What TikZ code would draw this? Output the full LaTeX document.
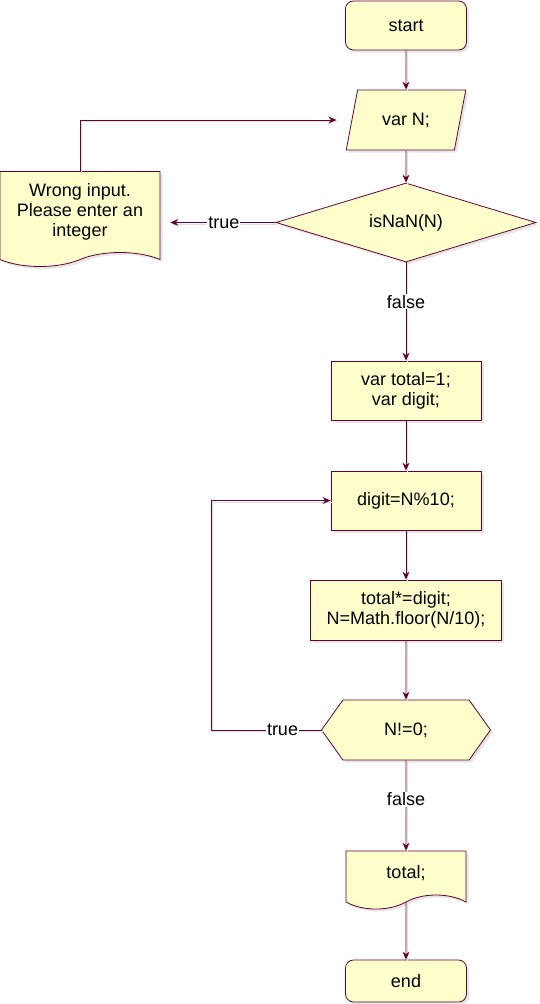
\documentclass[tikz,border=0pt]{standalone}
\usepackage{fontspec}
\setmainfont{Liberation Sans}
\usetikzlibrary{shapes.geometric,shapes.symbols,arrows.meta,shadows}

\definecolor{flowline}{HTML}{660033}
\definecolor{flowfill}{HTML}{FFFFCC}

\tikzset{
  box/.style={draw=flowline, fill=flowfill, line width=0.8pt, align=center,
    inner sep=0pt, drop shadow={shadow xshift=2.5pt, shadow yshift=-2.5pt, opacity=0.2}},
  terminal/.style={box, rounded corners=8pt, minimum width=121pt, minimum height=49pt},
  process/.style={box, rectangle, minimum width=150pt, minimum height=59pt},
  inout/.style={box, trapezium, trapezium left angle=69, trapezium right angle=111,
    trapezium stretches=true, minimum width=120pt, minimum height=60pt},
  decision/.style={box, diamond, aspect=3.3, minimum width=260pt, minimum height=79pt},
  loopcheck/.style={box, signal, signal to=east and west, signal pointer angle=109,
    minimum width=169pt, minimum height=60pt},
  document/.style={box, tape, tape bend top=none, tape bend bottom=in and out,
    tape bend height=14pt},
  flow/.style={draw=flowline, line width=0.9pt, -{Stealth[length=8pt, width=7pt]},
    preaction={draw=black!12, line width=0.9pt, -, transform canvas={shift={(1.5pt,-1.5pt)}}}},
  lbl/.style={fill=white, inner sep=1pt},
}

\begin{document}
\begin{tikzpicture}[x=1pt, y=-1pt, font=\fontsize{18}{20}\selectfont]
  \useasboundingbox (0,0) rectangle (539,1004);

  \node[terminal] (start) at (406, 25.5) {start};
  \node[inout] (varN) at (406, 120) {var N;};
  \node[decision] (isnan) at (406, 222.5) {isNaN(N)};
  \node[document, minimum width=160pt, minimum height=95pt] (wrong) at (80, 212)
    {Wrong input.\\Please enter an\\integer};
  \node[process] (vartotal) at (406, 390.5) {var total=1;\\var digit;};
  \node[process] (digit) at (406, 500.5) {digit=N\%10;};
  \node[process, minimum width=191pt, minimum height=60pt] (totalmul) at (406, 610)
    {total*=digit;\\N=Math.floor(N/10);};
  \node[loopcheck] (check) at (406, 730) {N!=0;};
  \node[document, minimum width=120pt, minimum height=58pt] (result) at (406, 873) {total;};
  \node[terminal, minimum height=42pt] (end) at (406, 981) {end};

  \draw[flow] (start) -- (varN);
  \draw[flow] (varN) -- (isnan);
  \draw[flow, shorten >=10pt] (isnan.west) -- node[lbl, pos=.45]{true} (isnan.west -| wrong.east);
  \draw[flow, shorten >=15pt] (wrong.north) |- (varN.west);
  \draw[flow] (isnan) -- node[lbl, pos=.4]{false} (vartotal);
  \draw[flow] (vartotal) -- (digit);
  \draw[flow] (digit) -- (totalmul);
  \draw[flow] (totalmul) -- (check);
  % back to the loop body
  \coordinate (loop) at (211, 730);
  \draw[flow] (check.west) -- node[lbl, pos=.35]{true} (loop) |- (digit.west);
  \draw[flow] (check) -- node[lbl, pos=.43]{false} (result);
  \draw[flow] (result) -- (end);
\end{tikzpicture}
\end{document}
